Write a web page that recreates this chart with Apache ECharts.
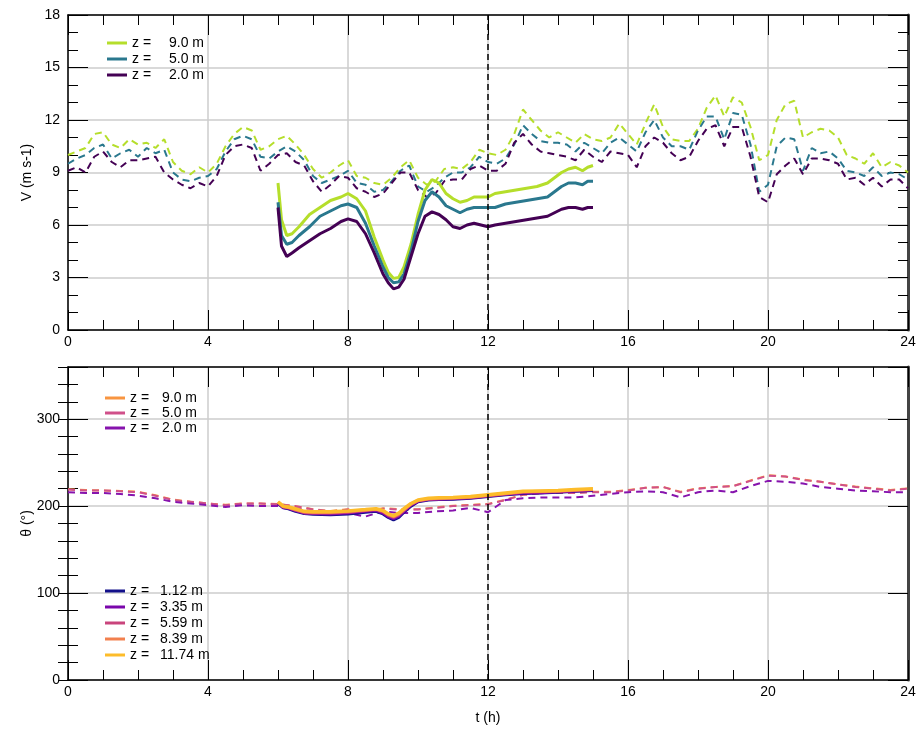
<!DOCTYPE html>
<html><head><meta charset="utf-8">
<script src="https://cdn.jsdelivr.net/npm/echarts@6/dist/echarts.min.js"></script>
<style>html,body{margin:0;padding:0;background:#fff}#c{width:920px;height:733px}</style>
</head><body><div id="c"></div>
<script>
// ---- time grids ----
const dashT = [
 0,0.25,0.5,0.75, 1,1.25,1.5,1.75, 2,2.25,2.5,2.75, 3,3.25,3.5,3.75,
 4,4.25,4.5,4.75, 5,5.25,5.5,5.75, 6,6.25,6.5,6.75, 7,7.25,7.5,7.75,
 8,8.25,8.5,8.75, 9,9.25,9.5,9.75, 10,10.25,10.5,10.75, 11,11.25,11.5,11.75,
 12,12.25,12.5,12.75, 13,13.25,13.5,13.75, 14,14.25,14.5,14.75, 15,15.25,15.5,15.75,
 16,16.25,16.5,16.75, 17,17.25,17.5,17.75, 18,18.25,18.5,18.75, 19,19.25,19.5,19.75,
 20,20.25,20.5,20.75, 21,21.25,21.5,21.75, 22,22.25,22.5,22.75, 23,23.25,23.5,23.75, 24];

// ---- top panel: dashed wind speed (m/s) ----
const vDash9 = [
 10.0,10.2,10.4,11.2, 11.3,10.6,10.4,10.9, 10.6,10.7,10.4,10.9, 9.6,9.1,8.9,9.3,
 9.0,9.5,10.5,11.2, 11.6,11.4,10.3,10.5, 10.9,11.1,10.6,10.0, 9.2,8.7,9.0,9.4,
 9.7,8.8,8.7,8.4, 8.3,8.7,9.3,9.7, 8.7,8.3,8.5,9.2, 9.3,9.2,9.6,10.3,
 10.1,10.0,10.3,11.2, 12.6,12.0,11.4,11.0, 11.3,11.0,10.7,11.2, 10.9,10.8,11.0,11.8,
 11.2,10.6,11.8,12.9, 11.6,10.9,10.8,10.8, 11.5,12.7,13.4,12.2, 13.3,13.0,11.6,9.7,
 10.0,12.0,12.9,13.1, 11.0,11.3,11.5,11.4, 11.0,10.0,9.8,9.5, 10.1,9.3,9.6,9.4, 9.0];
const vDash5 = [
 9.5,9.8,10.0,10.4, 10.6,9.8,10.1,10.3, 9.9,10.4,10.1,10.3, 9.0,8.6,8.5,8.7,
 8.8,9.2,10.2,10.9, 11.1,10.9,9.9,9.8, 10.2,10.5,10.2,9.7, 8.8,8.4,8.6,8.8,
 9.1,8.4,8.3,7.9, 8.0,8.5,9.1,9.4, 8.2,7.9,8.2,8.7, 9.0,9.0,9.3,9.9,
 9.6,9.5,9.8,10.6, 11.7,11.2,10.8,10.7, 10.7,10.6,10.2,10.7, 10.4,10.1,10.7,11.0,
 10.6,10.2,11.3,12.0, 11.0,10.5,10.5,10.3, 11.4,12.2,12.2,10.9, 12.4,12.3,10.6,7.9,
 8.3,10.5,11.0,10.9, 9.1,10.4,10.1,10.2, 9.8,9.1,9.0,8.8, 9.3,8.8,9.0,8.9, 8.6];
const vDash2 = [
 9.1,9.3,9.0,9.9, 10.2,9.6,9.3,9.7, 9.7,9.8,9.9,9.0, 8.6,8.3,8.1,8.4,
 8.2,8.8,10.0,10.5, 10.6,10.4,9.1,9.5, 10.0,10.1,9.6,9.4, 8.5,7.9,8.3,8.8,
 8.7,8.1,7.9,7.6, 7.8,8.4,9.0,9.0, 8.0,7.6,7.8,8.5, 8.6,8.6,9.2,9.4,
 9.1,9.1,9.5,10.7, 11.2,10.6,10.2,10.1, 10.0,9.9,9.7,10.3, 9.9,9.6,10.2,10.1,
 10.0,9.3,10.5,11.0, 10.7,10.1,9.7,9.9, 10.8,11.5,11.7,10.5, 11.6,11.6,9.9,7.6,
 7.3,8.9,9.4,9.8, 8.9,9.8,9.8,9.7, 9.5,8.6,8.7,8.3, 8.7,8.2,8.6,8.6, 8.1];

// ---- top panel: solid wind speed 6-15 h ----
const solidT = [6.0,6.1,6.25,6.4,6.6,6.9,7.2,7.5,7.8,8.0,8.25,8.5,8.75,9.0,9.15,9.3,9.45,9.6,9.8,
 10.0,10.2,10.4,10.6,10.8,11.0,11.2,11.4,11.6,11.8,12.0,12.2,12.5,12.8,13.1,13.4,13.7,13.9,
 14.1,14.3,14.5,14.7,14.85,15.0];
const vSolid9 = [8.4,6.3,5.4,5.5,5.9,6.6,7.0,7.4,7.6,7.8,7.5,6.8,5.3,4.0,3.3,2.95,3.0,3.6,4.9,
 6.6,8.0,8.6,8.4,7.8,7.5,7.3,7.4,7.6,7.6,7.6,7.8,7.9,8.0,8.1,8.2,8.4,8.7,
 9.0,9.2,9.3,9.1,9.3,9.4];
const vSolid5 = [7.3,5.4,4.9,5.0,5.4,5.9,6.5,6.8,7.1,7.2,7.0,6.1,4.8,3.6,3.0,2.7,2.75,3.2,4.5,
 6.2,7.4,7.9,7.6,7.1,6.9,6.7,6.9,7.0,7.0,7.0,7.0,7.2,7.3,7.4,7.5,7.6,7.9,
 8.2,8.4,8.4,8.3,8.5,8.5];
const vSolid2 = [7.0,4.8,4.2,4.4,4.7,5.1,5.5,5.8,6.2,6.35,6.2,5.5,4.4,3.2,2.7,2.35,2.45,2.9,4.2,
 5.5,6.5,6.75,6.6,6.3,5.9,5.8,6.0,6.1,6.0,5.9,6.0,6.1,6.2,6.3,6.4,6.5,6.7,
 6.9,7.0,7.0,6.9,7.0,7.0];

// ---- bottom panel: dashed direction (deg) ----
const dirDashT = [0,0.5,1,1.5,2,2.5,3,3.5,4,4.5,5,5.5,6,6.5,7,7.5,8,8.5,9,9.5,10,10.5,11,11.5,
 12,12.5,13,13.5,14,14.5,15,15.5,16,16.5,17,17.5,18,18.5,19,19.5,20,20.5,21,21.5,22,22.5,23,23.5,24];
const dDash9 = [219.5,218.5,218,217.5,216.5,212.5,207.5,205,203,201.5,203,203,202.5,200,196.5,194.5,196.5,193.5,197.5,196.5,196.5,198.5,200.5,201.5,
 202.5,207.5,213,215,215.5,215.5,216.5,216.5,218.5,221,222,216.5,220.5,222,223,229.5,235.5,234,230.5,228,225,222.5,220.5,218.5,220.5];
const dDash5 = [219,218,218,217,216,212,207,205,203,201,203,203,202,200,196,194,196,193,197,196,196,198,200,201,
 202,207,213,215,215,215,216,216,218,221,222,216,220,222,223,229,235,234,230,228,225,222,220,218,220];
const dDash2 = [216,215,215,214,212,209,205,203,201,199,201,200,200,198,193,192,192,188,194,192,192,194,195,198,
 193,207,209,210,210,210,212,214,216,217,216,210,216,218,216,223,229,228,226,222,220,218,217,216,216];

// ---- bottom panel: solid direction 6-15 h ----
const dirSolidT = [6.0,6.15,6.3,6.5,6.75,7.0,7.5,8.0,8.5,8.8,9.0,9.15,9.3,9.45,9.6,9.8,10.0,10.3,10.6,11.0,11.5,12.0,12.5,13.0,13.5,14.0,14.5,15.0];
const dS112 = [203,198,197,194,191.5,190.5,190,191,193,194,191,187,184,187,193,200,205,207,207.5,208,209,211,213,214.5,215,216,217,218];
const dS335 = [203.5,198.5,197.5,195,192,191.5,191,192,194,195,192,188,185.5,188.5,194,201,205.5,207.5,208,208.5,209.5,211.5,213.5,215,215.5,216.5,217.5,218.5];
const dS559 = [204,199,198,195.5,192.5,192,192,193,195,196,193.5,189.5,187,190,195,202,206,208,208.5,209,210,212,214,216,216.5,217,218,219];
const dS839 = [204.5,199.5,198.5,196,193.5,193,193,194,195.5,196.5,194.5,190.5,188,191,196,202.5,206.5,208.5,209,209.5,210.5,212.5,214.5,216.5,217,217.5,218.5,219.5];
const dS1174 = [205,200,199,197,194,193.5,193.5,194.5,196,197,195,191,189,192,197,203,207,209,209.5,210,211,213,215,217,217.5,218,219,220];

// ---- ticks ----
const xTicks = {min:0, max:24, interval:4, minor:1};
const vTicks = {min:0, max:18, interval:3, minor:1};
const dTicks = {min:0, max:360, interval:100, minor:20};

const legendText = {
  V9:'9.0 m', V5:'5.0 m', V2:'2.0 m',
  D9:'9.0 m', D5:'5.0 m', D2:'2.0 m',
  S1:'1.12 m', S2:'3.35 m', S3:'5.59 m', S4:'8.39 m', S5:'11.74 m'
};

const zip = (t, v) => t.map((x, i) => [x, v[i]]);
const FONT = "'Liberation Sans', Arial, sans-serif";
const GRIDC = '#cccccc';
const FS = 14;

function xAx(grid, pos, labels, name) {
  const base = {
    type:'value', gridIndex:grid, position:pos, min:xTicks.min, max:xTicks.max, interval:xTicks.interval,
    axisLine:{show:true, onZero:false, lineStyle:{color:'#000', width:1.5}},
    axisTick:{show:true, inside:true, length:20, lineStyle:{color:'#000', width:1}},
    minorTick:{show:true, splitNumber:xTicks.interval/xTicks.minor, length:10, lineStyle:{color:'#000', width:1}},
    axisLabel:{show:labels, color:'#000', fontFamily:FONT, fontSize:FS, margin:5},
    splitLine:{show:pos==='bottom', lineStyle:{color:GRIDC, width:1.5}}
  };
  if (name) { base.name = name; base.nameLocation='middle'; base.nameGap=31; base.nameMoveOverlap=false;
    base.nameTextStyle={color:'#000', fontFamily:FONT, fontSize:FS}; }
  return base;
}
function yAx(grid, pos, t, interval, opts) {
  const o = Object.assign({
    type:'value', gridIndex:grid, position:pos, min:t.min, max:t.max, interval:interval,
    axisLine:{show:true, onZero:false, lineStyle:{color: pos==='right' ? '#444' : '#000', width: pos==='right' ? 3 : 1.5}},
    axisTick:{show:true, inside:true, length:20, lineStyle:{color:'#000', width:1}},
    axisLabel:{show:false},
    splitLine:{show:false}
  }, opts || {});
  return o;
}

const yAxes = [
  // top panel
  yAx(0,'left',vTicks,vTicks.interval,{
    axisLabel:{show:true, color:'#000', fontFamily:FONT, fontSize:FS, margin:8},
    splitLine:{show:true, lineStyle:{color:GRIDC, width:1.5}},
    minorTick:{show:true, splitNumber:vTicks.interval/vTicks.minor, length:10, lineStyle:{color:'#000'}},
    name:'V (m s-1)', nameLocation:'middle', nameGap:34, nameMoveOverlap:false,
    nameTextStyle:{color:'#000', fontFamily:FONT, fontSize:FS}
  }),
  yAx(0,'right',vTicks,vTicks.interval,{
    minorTick:{show:true, splitNumber:vTicks.interval/vTicks.minor, length:10, lineStyle:{color:'#000'}}
  }),
  // bottom panel major
  yAx(1,'left',dTicks,dTicks.interval,{
    axisLabel:{show:true, color:'#000', fontFamily:FONT, fontSize:FS, margin:8,
      formatter: v => (v % dTicks.interval === 0 ? String(v) : '')},
    splitLine:{show:true, lineStyle:{color:GRIDC, width:1.5}},
    name:'θ (°)', nameLocation:'middle', nameGap:34, nameMoveOverlap:false,
    nameTextStyle:{color:'#000', fontFamily:FONT, fontSize:FS}
  }),
  yAx(1,'right',dTicks,dTicks.interval,{}),
  // bottom panel minor ticks
  yAx(1,'left',dTicks,dTicks.minor,{axisLine:{show:false}, axisTick:{show:true, inside:true, length:10, lineStyle:{color:'#000'}}}),
  yAx(1,'right',dTicks,dTicks.minor,{axisLine:{show:false}, axisTick:{show:true, inside:true, length:10, lineStyle:{color:'#000'}}})
];

const vline = {
  silent:true, symbol:['none','none'], label:{show:false}, animation:false,
  lineStyle:{color:'#000', type:[6,4], width:1.5},
  data:[{xAxis:12}]
};

function line(name, data, color, width, dashed, xi, yi, extra) {
  return Object.assign({
    name:name, type:'line', data:data, xAxisIndex:xi, yAxisIndex:yi,
    showSymbol:false, symbol:'none', smooth:false, silent:true,
    lineStyle:{color:color, width:width, type: dashed ? [7,5] : 'solid'},
    itemStyle:{color:color}, z: dashed ? 2 : 3
  }, extra || {});
}

const C = {
  v9:'#b5de2b', v5:'#2a788e', v2:'#440154',
  d9:'#f89540', d5:'#d0508a', d2:'#8613ad',
  s1:'#12108a', s2:'#7a06ab', s3:'#c9447c', s4:'#f2804e', s5:'#fdbc2a'
};

const series = [
  line('dv9', zip(dashT, vDash9), C.v9, 2, true, 0, 0),
  line('dv5', zip(dashT, vDash5), C.v5, 2, true, 0, 0),
  line('dv2', zip(dashT, vDash2), C.v2, 2, true, 0, 0),
  line('V9', zip(solidT, vSolid9), C.v9, 3, false, 0, 0),
  line('V5', zip(solidT, vSolid5), C.v5, 3, false, 0, 0),
  line('V2', zip(solidT, vSolid2), C.v2, 3, false, 0, 0, {markLine:vline}),

  line('D9', zip(dirDashT, dDash9), C.d9, 2, true, 2, 2),
  line('D5', zip(dirDashT, dDash5), C.d5, 2, true, 2, 2),
  line('D2', zip(dirDashT, dDash2), C.d2, 2, true, 2, 2),
  line('S1', zip(dirSolidT, dS112), C.s1, 3, false, 2, 2),
  line('S2', zip(dirSolidT, dS335), C.s2, 3, false, 2, 2),
  line('S3', zip(dirSolidT, dS559), C.s3, 3, false, 2, 2),
  line('S4', zip(dirSolidT, dS839), C.s4, 3, false, 2, 2),
  line('S5', zip(dirSolidT, dS1174), C.s5, 3.5, false, 2, 2, {markLine:vline})
];

function legend(data, left, top, aWidth, gap) {
  return {
    data:data, left:left, top:top, orient:'vertical', icon:'rect',
    itemWidth:20, itemHeight:3, itemGap:gap, selectedMode:false,
    formatter: n => '{a|z =}{b|' + legendText[n] + '}',
    textStyle:{color:'#000', fontFamily:FONT, fontSize:FS, lineHeight:14,
      rich:{a:{width:aWidth, fontFamily:FONT, fontSize:FS, color:'#000'}, b:{fontFamily:FONT, fontSize:FS, color:'#000'}}}
  };
}

const option = {
  animation:false,
  backgroundColor:'#fff',
  grid:[
    {left:68, right:12, top:15, height:315},
    {left:68, right:12, top:367, height:313}
  ],
  xAxis:[
    xAx(0,'bottom',true),
    xAx(0,'top',false),
    xAx(1,'bottom',true,'t (h)'),
    xAx(1,'top',false)
  ],
  yAxis:yAxes,
  legend:[
    legend(['V9','V5','V2'], 102, 31, 37, 2),
    legend(['D9','D5','D2'], 100, 386, 32, 1),
    legend(['S1','S2','S3','S4','S5'], 100, 579, 30, 2)
  ],
  series:series
};

const chart = echarts.init(document.getElementById('c'), null, {renderer:'canvas'});
chart.setOption(option);
</script>
</body></html>
